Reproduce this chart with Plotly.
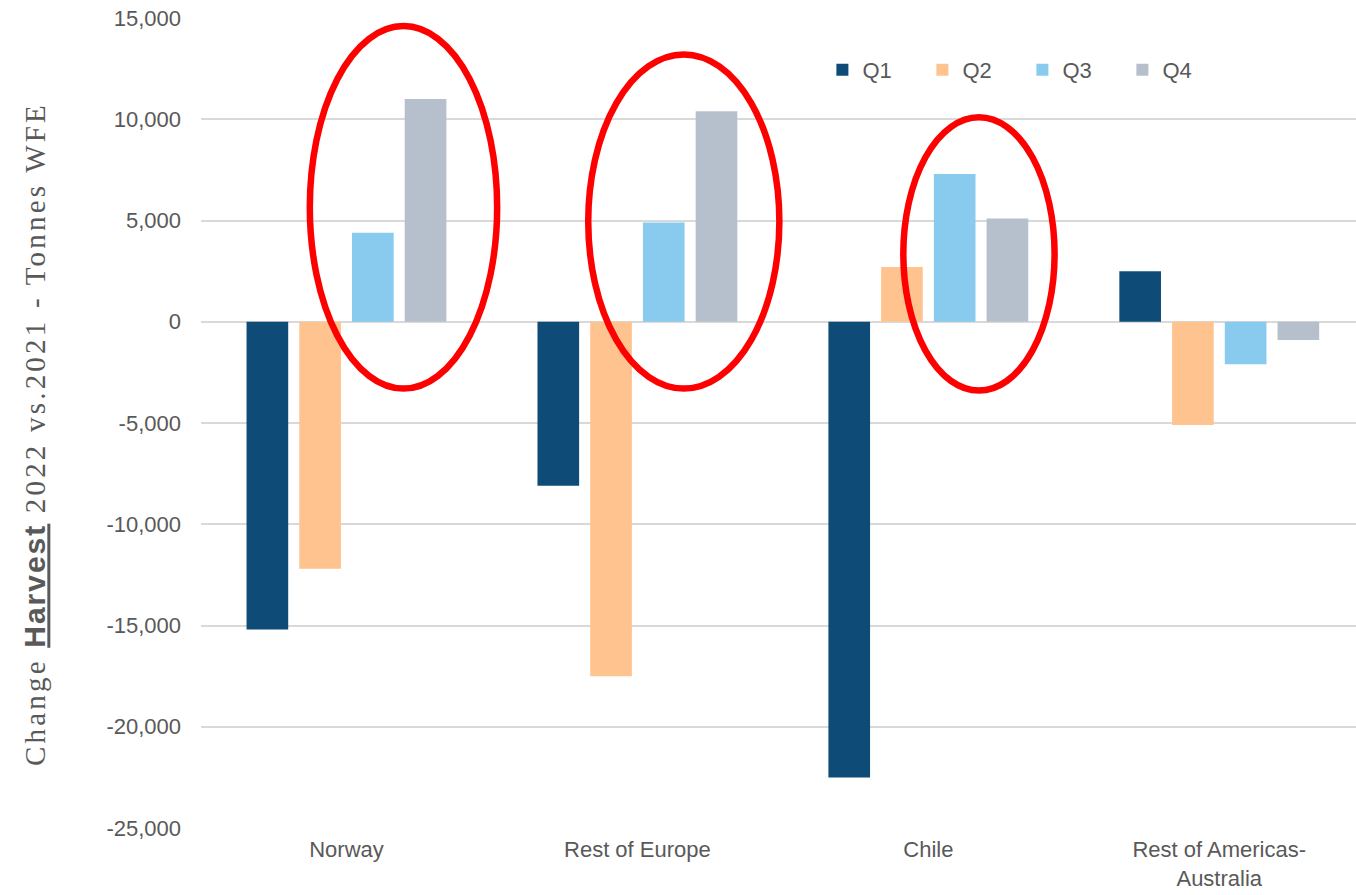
import plotly.graph_objects as go

# Regions and quarterly harvest change, 2022 vs 2021 (tonnes WFE)
regions = ["Norway", "Rest of Europe", "Chile", "Rest of Americas-<br>Australia"]
quarters = ["Q1", "Q2", "Q3", "Q4"]
q1 = [-15200, -8100, -22500, 2500]
q2 = [-12200, -17500, 2700, -5100]
q3 = [4400, 4900, 7300, -2100]
q4 = [11000, 10400, 5100, -900]
colors = ["#0E4C77", "#FFC38F", "#88CBEF", "#B6C0CC"]

# Value-axis ticks, labelled with a plain hyphen for negatives
y_ticks = [15000, 10000, 5000, 0, -5000, -10000, -15000, -20000, -25000]
y_labels = ["15,000", "10,000", "5,000", "0", "-5,000", "-10,000", "-15,000",
            "-20,000", "-25,000"]

# Highlight ellipses: (x0, x1) in category-index units, (y0, y1) in tonnes
ellipse_x = [(-0.126, 0.518), (0.831, 1.488), (1.914, 2.434)]
ellipse_y = [(-3300, 14600), (-3300, 13200), (-3400, 10100)]

fig = go.Figure()
for name, vals, col in zip(quarters, [q1, q2, q3, q4], colors):
    fig.add_trace(go.Bar(name=name, x=regions, y=vals, marker_color=col,
                         marker_line_width=0))

for (x0, x1), (y0, y1) in zip(ellipse_x, ellipse_y):
    fig.add_shape(type="circle", xref="x", yref="y", x0=x0, x1=x1, y0=y0, y1=y1,
                  line=dict(color="#FF0000", width=6.5), layer="above")

fig.update_layout(
    width=1356, height=895,
    margin=dict(l=201, r=0, t=18, b=67, autoexpand=False),
    plot_bgcolor="white", paper_bgcolor="white",
    barmode="group", bargap=0.275, bargroupgap=0.21,
    font=dict(family="Liberation Sans, Arial, sans-serif", size=22, color="#595959"),
    showlegend=True,
    legend=dict(orientation="h", x=0.538, y=0.936, xanchor="left", yanchor="middle",
                font=dict(size=22, color="#595959"), entrywidth=55,
                itemwidth=30, bgcolor="rgba(0,0,0,0)"),
    xaxis=dict(range=[-0.5, 3.47], showgrid=False, zeroline=False, showline=False,
               ticks="", ticklabelstandoff=6,
               tickfont=dict(size=22, color="#595959")),
    yaxis=dict(range=[-25000, 15000], tickvals=y_ticks, ticktext=y_labels,
               showgrid=True, gridcolor="#D9D9D9", gridwidth=1.5,
               zeroline=True, zerolinecolor="#D9D9D9", zerolinewidth=1.5,
               showline=False, ticks="", ticklabelstandoff=19,
               tickfont=dict(size=22, color="#595959")),
)

serif_style = "letter-spacing:3.2px"
fig.add_annotation(
    xref="paper", yref="paper", x=-0.144, y=0.486, xanchor="center", yanchor="middle",
    textangle=-90, showarrow=False,
    text=(f"<span style='{serif_style}'>Change </span>"
          "<span style='font-family:Liberation Sans, Arial, sans-serif;font-size:30px;"
          "letter-spacing:2px;font-weight:bold;text-decoration:underline'>Harvest</span>"
          f"<span style='{serif_style}'> 2022 vs.2021 - Tonnes WFE</span>"),
    font=dict(family="Liberation Serif, Times New Roman, serif", size=29, color="#595959"),
)

fig.write_html("out.html")
